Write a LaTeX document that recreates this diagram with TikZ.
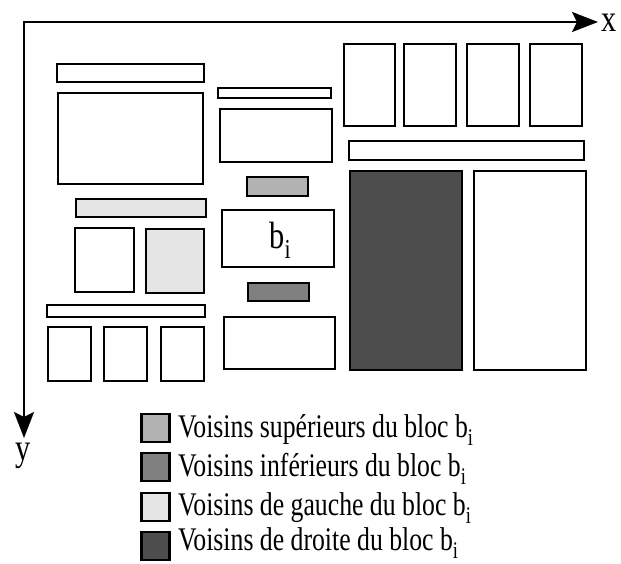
\documentclass[tikz,border=0pt]{standalone}
\usepackage{fontspec}
\setmainfont{Liberation Serif}
\usepackage{tikz}
\usetikzlibrary{arrows.meta, positioning}
\definecolor{supgray}{RGB}{178,178,178}
\definecolor{infgray}{RGB}{128,128,128}
\definecolor{leftgray}{RGB}{229,229,229}
\definecolor{rightgray}{RGB}{77,77,77}
\newcommand{\sub}[1]{\raisebox{-0.26em}{\scalebox{0.72}{#1}}}

\begin{document}
\begin{tikzpicture}[
    x=1pt, y=-1pt,
    blk/.style={draw, line width=2.8pt, fill=white},
    axes/.style={line width=2.6pt, {Stealth[length=26pt, width=20pt, inset=5pt]}-{Stealth[length=26pt, width=20pt, inset=5pt]}},
    lbl/.style={inner sep=0pt, xscale=0.8, font=\fontsize{38}{44}\selectfont},
    legsq/.style={draw, line width=2.8pt, minimum size=28pt, inner sep=0pt},
    legtxt/.style={inner sep=0pt, anchor=base west, xscale=0.78, font=\fontsize{33}{40}\selectfont}
]
    \useasboundingbox (0,0) rectangle (621,564);

    % axes
    \coordinate (O) at (24,22);
    \coordinate (xend) at (598,22);
    \coordinate (yend) at (24,438);
    \draw[axes] (xend) -- (O) -- (yend);
    \node[lbl, anchor=base west] (xlab) at (601,32) {x};
    \node[lbl, anchor=base] (ylab) at (23,460) {y};

    % left column
    \draw[blk] (57,64) rectangle (204,82);
    \draw[blk] (58,93) rectangle (203,184);
    \draw[blk, fill=leftgray] (76,199) rectangle (206,217);
    \draw[blk] (75,228) rectangle (134,292);
    \draw[blk, fill=leftgray] (146,229) rectangle (204,293);
    \draw[blk] (47,305) rectangle (205,317);
    \draw[blk] (48,327) rectangle (91,381);
    \draw[blk] (104,327) rectangle (147,381);
    \draw[blk] (161,327) rectangle (204,381);

    % middle column
    \draw[blk] (218,88) rectangle (331,98);
    \draw[blk] (220,109) rectangle (332,162);
    \draw[blk, fill=supgray] (247,177) rectangle (308,196);
    \draw[blk] (222,210) rectangle (334,267);
    \node[lbl] (bi) at (280,240) {b\sub{i}};
    \draw[blk, fill=infgray] (248,283) rectangle (309,301);
    \draw[blk] (224,317) rectangle (335,369);

    % right column
    \draw[blk] (344,44) rectangle (395,126);
    \draw[blk] (404,44) rectangle (456,126);
    \draw[blk] (467,44) rectangle (519,126);
    \draw[blk] (530,44) rectangle (582,126);
    \draw[blk] (349,141) rectangle (584,160);
    \draw[blk, fill=rightgray] (350,171) rectangle (462,370);
    \draw[blk] (474,171) rectangle (586,370);

    % legend
    \node[legsq, fill=supgray] (sq1) at (155.5,428) {};
    \node[legsq, fill=infgray] (sq2) at (155.5,467) {};
    \node[legsq, fill=leftgray] (sq3) at (155.5,507) {};
    \node[legsq, fill=rightgray] (sq4) at (155.5,546) {};
    \node[legtxt] (t1) at (178,437) {Voisins supérieurs du bloc b\sub{i}};
    \node[legtxt] (t2) at (178,476) {Voisins inférieurs du bloc b\sub{i}};
    \node[legtxt] (t3) at (178,515) {Voisins de gauche du bloc b\sub{i}};
    \node[legtxt] (t4) at (178,550) {Voisins de droite du bloc b\sub{i}};
\end{tikzpicture}
\end{document}
